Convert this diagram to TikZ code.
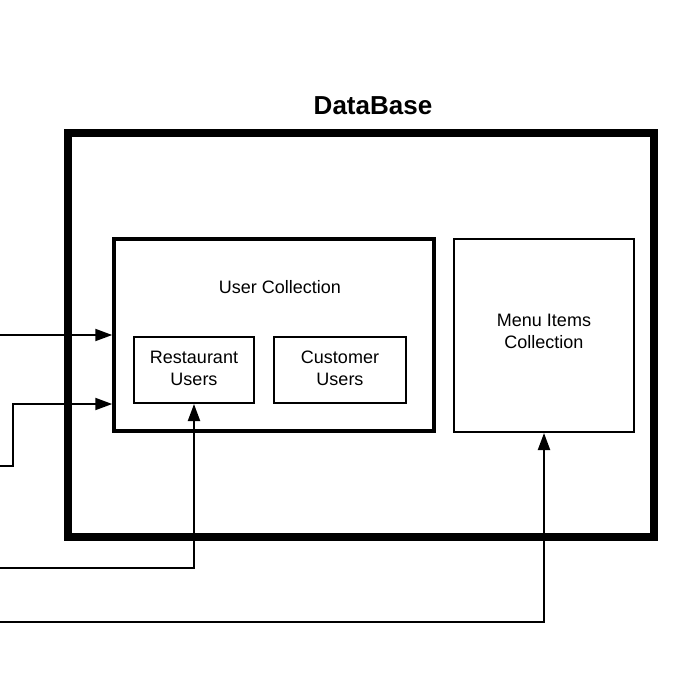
\documentclass[tikz,border=0pt]{standalone}
\usepackage{fontspec}
\setmainfont{Liberation Sans}
\usetikzlibrary{arrows.meta}
\begin{document}
\begin{tikzpicture}[x=1pt,y=-1pt,
  box/.style={draw,rectangle,inner sep=0pt},
  txt/.style={align=center,font=\fontsize{18}{22}\selectfont,inner sep=0pt},
  conn/.style={line width=2pt,-{Triangle[length=17pt,width=12pt]}}]
\useasboundingbox (0,0) rectangle (694,697);
\node[font=\fontsize{26}{30}\selectfont\bfseries,inner sep=0pt] (title) at (373,106) {DataBase};
\node[box,line width=7.5pt,minimum width=586pt,minimum height=404pt] (db) at (361,335) {};
\node[box,line width=3.5pt,minimum width=320pt,minimum height=192pt] (uc) at (274,335) {};
\node[txt] (uclabel) at (280,287) {User Collection};
\node[box,line width=2pt,minimum width=180pt,minimum height=193pt] (mi) at (544,335.5) {};
\node[txt] (milabel) at (544,331.5) {Menu Items\\Collection};
\node[box,line width=2pt,minimum width=120pt,minimum height=66pt] (ru) at (194,370) {};
\node[txt] (rulabel) at (194,368) {Restaurant\\Users};
\node[box,line width=2pt,minimum width=132pt,minimum height=66pt] (cu) at (340,370) {};
\node[txt] (culabel) at (340,368) {Customer\\Users};
\coordinate (s1) at (0,335);
\coordinate (s2) at (0,466);
\coordinate (b2) at (13,404);
\coordinate (s3) at (0,568);
\coordinate (s4) at (0,622);
\draw[conn] (s1) -- (uc.west |- s1);
\draw[conn] (s2) -| (b2) -- (uc.west |- b2);
\draw[conn] (s3) -| (ru.south);
\draw[conn] (s4) -| (mi.south);
\end{tikzpicture}
\end{document}
